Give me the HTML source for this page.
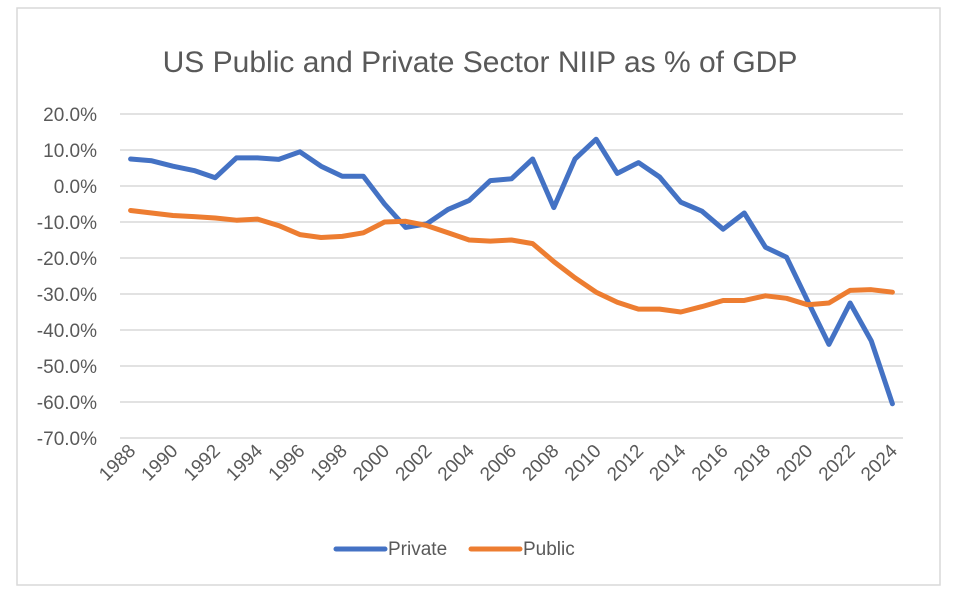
<!DOCTYPE html>
<html><head><meta charset="utf-8"><style>
body{margin:0;background:#fff;}
svg{display:block;font-family:"Liberation Sans",sans-serif;}
</style></head><body>
<svg id="chart" width="960" height="605">
<rect x="17" y="8" width="923" height="577" fill="#fff" stroke="#d9d9d9" stroke-width="1.5"/>
<text x="480" y="72" text-anchor="middle" font-size="30" fill="#595959">US Public and Private Sector NIIP as % of GDP</text>
<g id="grid"></g><g id="yl"></g><g id="xl"></g><g id="lines"></g>
<g>
<line x1="336" y1="549" x2="385" y2="549" stroke="#4472c4" stroke-width="5" stroke-linecap="round"/>
<text x="388" y="555" font-size="19" fill="#595959">Private</text>
<line x1="471" y1="549" x2="520" y2="549" stroke="#ed7d31" stroke-width="5" stroke-linecap="round"/>
<text x="523" y="555" font-size="19" fill="#595959">Public</text>
</g>
</svg>
<script>
const years=[];for(let y=1988;y<=2024;y++)years.push(y);
const privateVals=[7.5,7,5.5,4.3,2.3,7.8,7.8,7.4,9.5,5.5,2.7,2.7,-5,-11.5,-10.5,-6.5,-4,1.5,2,7.5,-6,7.5,13,3.5,6.5,2.5,-4.5,-7,-12,-7.5,-17,-19.8,-32,-44,-32.5,-43,-60.5];
const publicVals=[-6.8,-7.5,-8.2,-8.5,-8.9,-9.5,-9.2,-11,-13.5,-14.3,-14,-13,-10,-9.8,-11,-13,-15,-15.3,-15,-16,-21,-25.5,-29.5,-32.3,-34.2,-34.2,-35,-33.5,-31.8,-31.8,-30.5,-31.2,-33,-32.5,-29,-28.8,-29.5];
const yTicks=[20,10,0,-10,-20,-30,-40,-50,-60,-70];
const NS="http://www.w3.org/2000/svg";
const L=120,R=903,step=(R-L)/years.length;
const xs=i=>L+step*(i+0.5);
const ys=v=>186-v*3.6;
function mk(t,a,p){const e=document.createElementNS(NS,t);for(const k in a)e.setAttribute(k,a[k]);document.getElementById(p).appendChild(e);return e;}
yTicks.forEach(v=>{
 const g=mk('line',{x1:L,x2:R,y1:ys(v),y2:ys(v),stroke:'#d9d9d9','stroke-width':1.5},'grid');
 
 
 const t=mk('text',{x:97,y:ys(v)+7,'text-anchor':'end','font-size':19,fill:'#595959'},'yl');
 t.textContent=v.toFixed(1)+'%';
 
 
});
years.forEach((y,i)=>{
 if(i%2)return;
 const x=xs(i)+6,yy=452;
 const t=mk('text',{x:x,y:yy,'text-anchor':'end','font-size':19,fill:'#595959',transform:`rotate(-45 ${x} ${yy})`},'xl');
 t.textContent=y;
 
 
});
[[privateVals,'#4472c4','private-line'],[publicVals,'#ed7d31','public-line']].forEach(([d,c,n])=>{
 const p=mk('polyline',{points:d.map((v,i)=>xs(i)+','+ys(v)).join(' '),fill:'none',stroke:c,'stroke-width':5,'stroke-linejoin':'round','stroke-linecap':'round'},'lines');
 
 
});
</script>
</body></html>
